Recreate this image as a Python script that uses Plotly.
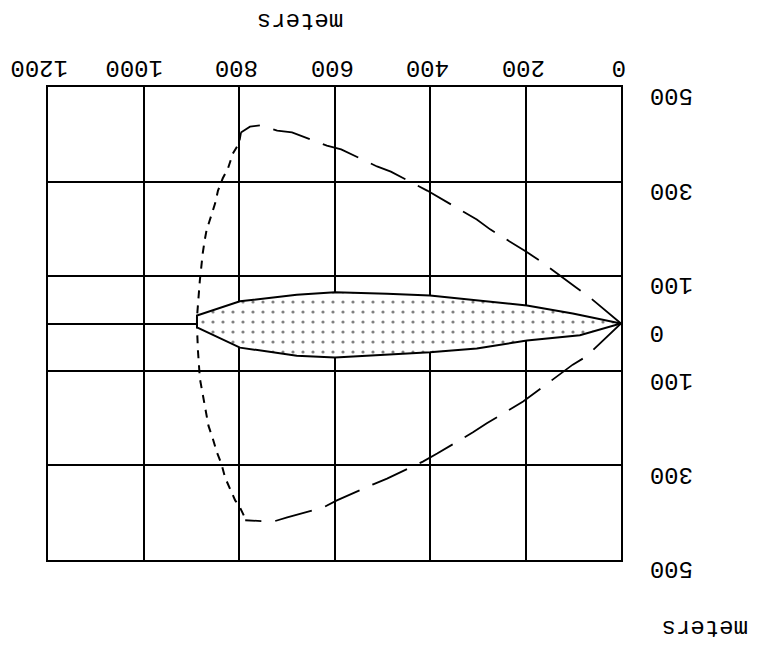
import plotly.graph_objects as go

# ---- data (meters) ----
x_ticks = [0, 200, 400, 600, 800, 1000, 1200]
x_ticktext = ["0", "200", "400", "600", "800", "1000", "1200"]
y_ticks = [-500, -300, -100, 0, 100, 300, 500]
y_ticktext = ["500", "300", "100", "0", "100", "300", "500"]

# outer envelope, upper branch (long dashes)
up_x = [0, 65, 94, 170, 199, 274, 302, 379, 406, 482, 511, 586, 616, 689, 720, 756, 777, 796]
up_y = [0, 55, 76, 133, 152, 199, 220, 264, 281, 321, 332, 368, 376, 404, 408, 419, 416, 404]
# outer envelope, lower branch (long dashes)
lo_x = [0, 73, 101, 178, 205, 281, 310, 385, 415, 490, 519, 595, 624, 699, 729, 787]
lo_y = [0, -70, -87, -146, -165, -211, -230, -275, -292, -328, -340, -374, -389, -410, -419, -416]
# downwind front (short dashes)
fr_x = [796, 800, 813, 823, 834, 844, 850, 859, 868, 872, 876, 882, 886, 888, 888, 886, 882, 876, 869, 864, 855, 846, 837, 829, 819, 808, 798, 787]
fr_y = [404, 381, 359, 328, 307, 281, 254, 224, 197, 175, 148, 91, 49, 13, -8, -57, -116, -152, -190, -216, -243, -273, -296, -326, -349, -374, -389, -412]
# shaded plume
pl_top_x = [0, 101, 197, 302, 400, 490, 599, 679, 798, 888]
pl_top_y = [0, 21, 38, 49, 59, 63, 66, 61, 47, 17]
pl_bot_x = [888, 798, 679, 599, 400, 302, 197, 86, 0]
pl_bot_y = [-8, -51, -68, -72, -61, -53, -36, -25, 0]

FONT = "Liberation Mono"
FS = 24

fig = go.Figure()

fig.add_trace(go.Scatter(
    x=pl_top_x + pl_bot_x, y=pl_top_y + pl_bot_y,
    mode="lines", fill="toself",
    fillcolor="white",
    fillpattern=dict(shape=".", size=10, solidity=0.08, fgcolor="black", bgcolor="white"),
    line=dict(color="black", width=2),
    showlegend=False, hoverinfo="skip"))

fig.add_trace(go.Scatter(
    x=up_x, y=up_y, mode="lines",
    line=dict(color="black", width=1.8, dash="38px,14px"),
    showlegend=False))
fig.add_trace(go.Scatter(
    x=lo_x, y=lo_y, mode="lines",
    line=dict(color="black", width=1.8, dash="38px,14px"),
    showlegend=False))
fig.add_trace(go.Scatter(
    x=fr_x, y=fr_y, mode="lines",
    line=dict(color="black", width=2, dash="8px,7px"),
    showlegend=False))

annotations = []
# x tick labels (upside-down text, above the plot)
for v, t in zip(x_ticks, x_ticktext):
    annotations.append(dict(
        text=t, x=v, xref="x", y=1, yref="paper",
        xanchor="center", yanchor="middle",
        xshift=-9 if len(t) > 3 else -2, yshift=19,
        showarrow=False, textangle=180,
        font=dict(family=FONT, size=FS, color="black")))
# y tick labels (upside-down text, right of the plot)
for v, t in zip(y_ticks, y_ticktext):
    annotations.append(dict(
        text=t, x=1, xref="paper", y=v, yref="y",
        xanchor="left", yanchor="middle",
        xshift=27, yshift=-9,
        showarrow=False, textangle=180,
        font=dict(family=FONT, size=FS, color="black")))
# axis titles
annotations.append(dict(text="meters", xref="paper", yref="paper", x=0.44, y=1,
                        xanchor="center", yanchor="middle", yshift=66,
                        showarrow=False, textangle=180,
                        font=dict(family=FONT, size=FS, color="black")))
annotations.append(dict(text="meters", xref="paper", yref="paper", x=1, y=0,
                        xanchor="center", yanchor="middle", xshift=84, yshift=-68,
                        showarrow=False, textangle=180,
                        font=dict(family=FONT, size=FS, color="black")))

# page body has an 8px default margin, so the figure is sized to fit the window
fig.update_layout(
    width=763, height=638,
    margin=dict(l=40, r=150, t=79, b=86),
    paper_bgcolor="white", plot_bgcolor="white",
    font=dict(family=FONT, size=FS, color="black"),
    xaxis=dict(
        range=[1200, 0], side="top", automargin=False,
        tickvals=x_ticks, showticklabels=False,
        showgrid=True, gridcolor="black", gridwidth=1.8,
        showline=True, linecolor="black", linewidth=2, mirror=True,
        zeroline=False, ticks="",
    ),
    yaxis=dict(
        range=[-500, 500], side="right", automargin=False,
        tickvals=y_ticks, showticklabels=False,
        showgrid=True, gridcolor="black", gridwidth=1.8,
        showline=True, linecolor="black", linewidth=2, mirror=True,
        zeroline=True, zerolinecolor="black", zerolinewidth=1.8,
        ticks="",
    ),
    annotations=annotations,
)

fig.write_html("out.html")
